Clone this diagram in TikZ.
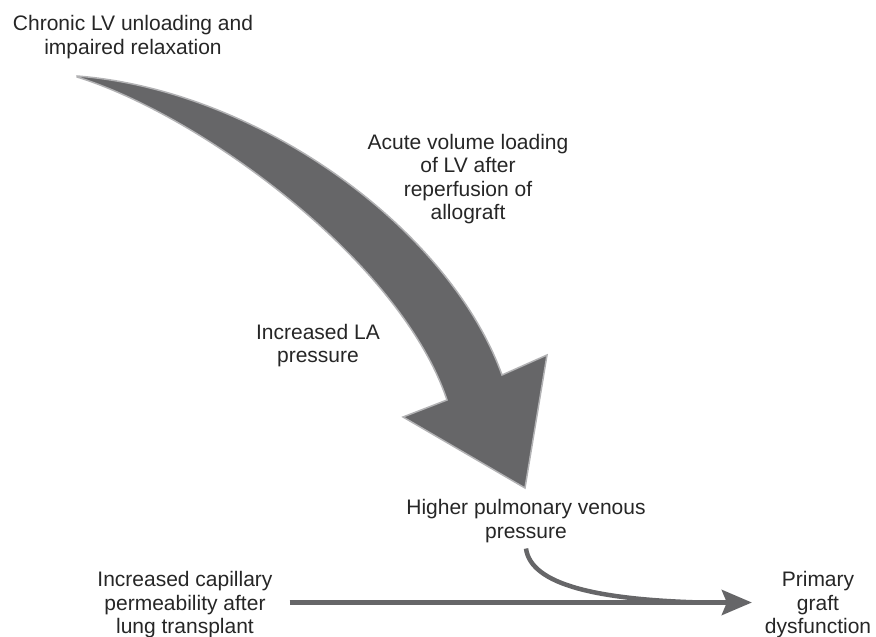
\documentclass[tikz,border=0pt]{standalone}
\usepackage{fontspec}
\setmainfont{Liberation Sans}
\usetikzlibrary{arrows.meta}
\definecolor{arrowgray}{RGB}{102,102,104}
\definecolor{rimgray}{RGB}{178,178,180}
\begin{document}
\begin{tikzpicture}[x=1pt, y=-1pt,
  txt/.style={align=center, inner sep=0pt, outer sep=0pt, text=black!85,
    font=\fontsize{21}{23.5}\selectfont},
  flow/.style={draw=arrowgray, line width=5pt}]
  \useasboundingbox (0,0) rectangle (876,637);
  \fill[arrowgray, draw=rimgray, line width=1.5pt, line join=miter]
    (77,76) .. controls (260,90) and (450,230) .. (502,375) -- (547,355)
    -- (525,488) -- (403,417) -- (447,400)
    .. controls (400,260) and (200,115) .. (77,77) -- cycle;
  \node[txt] (chronic) at (133,37) {Chronic LV unloading and\\impaired relaxation};
  \node[txt] (acute) at (468,179) {Acute volume loading\\of LV after\\reperfusion of\\allograft};
  \node[txt] (incla) at (318,345.5) {Increased LA\\pressure};
  \node[txt] (higher) at (526,521) {Higher pulmonary venous\\pressure};
  \node[txt] (capillary) at (185,605) {Increased capillary\\permeability after\\lung transplant};
  \node[txt] (primary) at (818,605) {Primary\\graft\\dysfunction};
  \draw[flow, -{Stealth[length=30pt, width=25pt, inset=5pt]}]
    ([shift={(17pt,2.5pt)}]capillary.east) -- ([shift={(-13pt,2.5pt)}]primary.west);
  \coordinate (join) at (700,602.5);
  \draw[flow, line width=4.5pt]
    ([yshift=-6pt]higher.south) .. controls +(5,37) and +(-100,-3) .. (join);
\end{tikzpicture}
\end{document}
